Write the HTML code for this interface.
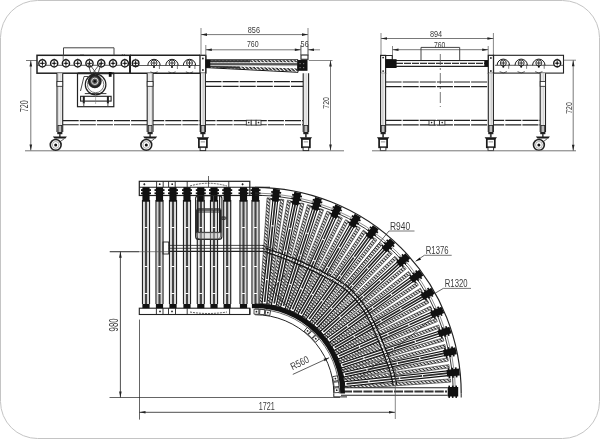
<!DOCTYPE html><html><head><meta charset="utf-8"><style>html,body{margin:0;padding:0;background:#fff;width:600px;height:439px;overflow:hidden}svg{display:block;filter:grayscale(1)}text{font-family:"Liberation Sans",sans-serif}</style></head><body><svg width="600" height="439" viewBox="0 0 600 439">
<rect x="0.5" y="0.5" width="599" height="438" rx="37" ry="37" fill="none" stroke="#c4c4c4" stroke-width="1"/>
<line x1="26" y1="60.5" x2="37" y2="60.5" stroke="#555" stroke-width="0.8" />
<line x1="30.8" y1="60.5" x2="30.8" y2="150.5" stroke="#555" stroke-width="0.8" />
<path d="M30.8,60.5 L29.5,66.5 L32.1,66.5 Z" fill="#222"/>
<path d="M30.8,150.5 L29.5,144.5 L32.1,144.5 Z" fill="#222"/>
<text transform="translate(28.45,112.12) rotate(-90) scale(0.704,1)" font-size="10.17" fill="#3a3a3a">720</text>
<line x1="25" y1="150.8" x2="344" y2="150.8" stroke="#666" stroke-width="0.9" />
<rect x="37" y="55.3" width="93" height="17.9" stroke="#222" stroke-width="1.5" fill="none" />
<line x1="130" y1="55.3" x2="130" y2="73.2" stroke="#222" stroke-width="2" />
<line x1="130" y1="55.3" x2="200" y2="55.3" stroke="#222" stroke-width="1.5" />
<line x1="130" y1="73.2" x2="200" y2="73.2" stroke="#222" stroke-width="1.5" />
<rect x="200" y="55.3" width="5.8" height="17.9" stroke="#222" stroke-width="1.3" fill="none" />
<circle cx="202.9" cy="58.5" r="0.9" stroke="#222" stroke-width="0" fill="#222"/>
<circle cx="202.9" cy="70" r="0.9" stroke="#222" stroke-width="0" fill="#222"/>
<line x1="205.8" y1="56" x2="205.8" y2="73.2" stroke="#222" stroke-width="1" />
<line x1="37" y1="65.3" x2="130" y2="65.3" stroke="#333" stroke-width="0.8" />
<line x1="38.8" y1="65.3" x2="46.0" y2="65.3" stroke="#222" stroke-width="0.0" />
<circle cx="42.4" cy="63.3" r="3.6" stroke="#1a1a1a" stroke-width="1.4" fill="#fff"/>
<line x1="40.0" y1="63.3" x2="44.8" y2="63.3" stroke="#222" stroke-width="1.0" />
<line x1="42.4" y1="60.9" x2="42.4" y2="65.7" stroke="#222" stroke-width="1.0" />
<circle cx="42.4" cy="63.3" r="0.9" stroke="#222" stroke-width="0" fill="#111"/>
<line x1="42.4" y1="58.49999999999999" x2="42.4" y2="59.699999999999996" stroke="#222" stroke-width="0.7" />
<line x1="42.4" y1="66.89999999999999" x2="42.4" y2="68.1" stroke="#222" stroke-width="0.7" />
<line x1="50.57" y1="65.3" x2="57.77" y2="65.3" stroke="#222" stroke-width="0.0" />
<circle cx="54.17" cy="63.3" r="3.6" stroke="#1a1a1a" stroke-width="1.4" fill="#fff"/>
<line x1="51.77" y1="63.3" x2="56.57" y2="63.3" stroke="#222" stroke-width="1.0" />
<line x1="54.17" y1="60.9" x2="54.17" y2="65.7" stroke="#222" stroke-width="1.0" />
<circle cx="54.17" cy="63.3" r="0.9" stroke="#222" stroke-width="0" fill="#111"/>
<line x1="54.17" y1="58.49999999999999" x2="54.17" y2="59.699999999999996" stroke="#222" stroke-width="0.7" />
<line x1="54.17" y1="66.89999999999999" x2="54.17" y2="68.1" stroke="#222" stroke-width="0.7" />
<line x1="62.339999999999996" y1="65.3" x2="69.53999999999999" y2="65.3" stroke="#222" stroke-width="0.0" />
<circle cx="65.94" cy="63.3" r="3.6" stroke="#1a1a1a" stroke-width="1.4" fill="#fff"/>
<line x1="63.54" y1="63.3" x2="68.34" y2="63.3" stroke="#222" stroke-width="1.0" />
<line x1="65.94" y1="60.9" x2="65.94" y2="65.7" stroke="#222" stroke-width="1.0" />
<circle cx="65.94" cy="63.3" r="0.9" stroke="#222" stroke-width="0" fill="#111"/>
<line x1="65.94" y1="58.49999999999999" x2="65.94" y2="59.699999999999996" stroke="#222" stroke-width="0.7" />
<line x1="65.94" y1="66.89999999999999" x2="65.94" y2="68.1" stroke="#222" stroke-width="0.7" />
<line x1="74.11000000000001" y1="65.3" x2="81.31" y2="65.3" stroke="#222" stroke-width="0.0" />
<circle cx="77.71000000000001" cy="63.3" r="3.6" stroke="#1a1a1a" stroke-width="1.4" fill="#fff"/>
<line x1="75.31" y1="63.3" x2="80.11000000000001" y2="63.3" stroke="#222" stroke-width="1.0" />
<line x1="77.71000000000001" y1="60.9" x2="77.71000000000001" y2="65.7" stroke="#222" stroke-width="1.0" />
<circle cx="77.71000000000001" cy="63.3" r="0.9" stroke="#222" stroke-width="0" fill="#111"/>
<line x1="77.71000000000001" y1="58.49999999999999" x2="77.71000000000001" y2="59.699999999999996" stroke="#222" stroke-width="0.7" />
<line x1="77.71000000000001" y1="66.89999999999999" x2="77.71000000000001" y2="68.1" stroke="#222" stroke-width="0.7" />
<line x1="85.88" y1="65.3" x2="93.07999999999998" y2="65.3" stroke="#222" stroke-width="0.0" />
<circle cx="89.47999999999999" cy="63.3" r="3.6" stroke="#1a1a1a" stroke-width="1.4" fill="#fff"/>
<line x1="87.07999999999998" y1="63.3" x2="91.88" y2="63.3" stroke="#222" stroke-width="1.0" />
<line x1="89.47999999999999" y1="60.9" x2="89.47999999999999" y2="65.7" stroke="#222" stroke-width="1.0" />
<circle cx="89.47999999999999" cy="63.3" r="0.9" stroke="#222" stroke-width="0" fill="#111"/>
<line x1="89.47999999999999" y1="58.49999999999999" x2="89.47999999999999" y2="59.699999999999996" stroke="#222" stroke-width="0.7" />
<line x1="89.47999999999999" y1="66.89999999999999" x2="89.47999999999999" y2="68.1" stroke="#222" stroke-width="0.7" />
<line x1="97.65" y1="65.3" x2="104.85" y2="65.3" stroke="#222" stroke-width="0.0" />
<circle cx="101.25" cy="63.3" r="3.6" stroke="#1a1a1a" stroke-width="1.4" fill="#fff"/>
<line x1="98.85" y1="63.3" x2="103.65" y2="63.3" stroke="#222" stroke-width="1.0" />
<line x1="101.25" y1="60.9" x2="101.25" y2="65.7" stroke="#222" stroke-width="1.0" />
<circle cx="101.25" cy="63.3" r="0.9" stroke="#222" stroke-width="0" fill="#111"/>
<line x1="101.25" y1="58.49999999999999" x2="101.25" y2="59.699999999999996" stroke="#222" stroke-width="0.7" />
<line x1="101.25" y1="66.89999999999999" x2="101.25" y2="68.1" stroke="#222" stroke-width="0.7" />
<line x1="109.42000000000002" y1="65.3" x2="116.62" y2="65.3" stroke="#222" stroke-width="0.0" />
<circle cx="113.02000000000001" cy="63.3" r="3.6" stroke="#1a1a1a" stroke-width="1.4" fill="#fff"/>
<line x1="110.62" y1="63.3" x2="115.42000000000002" y2="63.3" stroke="#222" stroke-width="1.0" />
<line x1="113.02000000000001" y1="60.9" x2="113.02000000000001" y2="65.7" stroke="#222" stroke-width="1.0" />
<circle cx="113.02000000000001" cy="63.3" r="0.9" stroke="#222" stroke-width="0" fill="#111"/>
<line x1="113.02000000000001" y1="58.49999999999999" x2="113.02000000000001" y2="59.699999999999996" stroke="#222" stroke-width="0.7" />
<line x1="113.02000000000001" y1="66.89999999999999" x2="113.02000000000001" y2="68.1" stroke="#222" stroke-width="0.7" />
<line x1="121.19" y1="65.3" x2="128.39" y2="65.3" stroke="#222" stroke-width="0.0" />
<circle cx="124.78999999999999" cy="63.3" r="3.6" stroke="#1a1a1a" stroke-width="1.4" fill="#fff"/>
<line x1="122.38999999999999" y1="63.3" x2="127.19" y2="63.3" stroke="#222" stroke-width="1.0" />
<line x1="124.78999999999999" y1="60.9" x2="124.78999999999999" y2="65.7" stroke="#222" stroke-width="1.0" />
<circle cx="124.78999999999999" cy="63.3" r="0.9" stroke="#222" stroke-width="0" fill="#111"/>
<line x1="124.78999999999999" y1="58.49999999999999" x2="124.78999999999999" y2="59.699999999999996" stroke="#222" stroke-width="0.7" />
<line x1="124.78999999999999" y1="66.89999999999999" x2="124.78999999999999" y2="68.1" stroke="#222" stroke-width="0.7" />
<line x1="63.2" y1="55.3" x2="63.2" y2="60" stroke="#555" stroke-width="0.8" />
<line x1="81" y1="54" x2="81" y2="55.3" stroke="#222" stroke-width="0.6" />
<line x1="83" y1="54" x2="83" y2="55.3" stroke="#222" stroke-width="0.6" />
<line x1="122.3" y1="54" x2="122.3" y2="55.3" stroke="#222" stroke-width="0.6" />
<line x1="124.3" y1="54" x2="124.3" y2="55.3" stroke="#222" stroke-width="0.6" />
<line x1="132.29999999999998" y1="65.2" x2="138.9" y2="65.2" stroke="#222" stroke-width="0.0" />
<circle cx="135.6" cy="63.2" r="3.3" stroke="#1a1a1a" stroke-width="1.4" fill="#fff"/>
<line x1="133.2" y1="63.2" x2="138.0" y2="63.2" stroke="#222" stroke-width="1.0" />
<line x1="135.6" y1="60.800000000000004" x2="135.6" y2="65.60000000000001" stroke="#222" stroke-width="1.0" />
<circle cx="135.6" cy="63.2" r="0.9" stroke="#222" stroke-width="0" fill="#111"/>
<line x1="135.6" y1="58.7" x2="135.6" y2="59.900000000000006" stroke="#222" stroke-width="0.7" />
<line x1="135.6" y1="66.5" x2="135.6" y2="67.7" stroke="#222" stroke-width="0.7" />
<path d="M147.8,65.5 A6.2,6.2 0 0 1 160.2,65.5" fill="none" stroke="#1a1a1a" stroke-width="1.0"/>
<circle cx="154" cy="63.0" r="3.0" stroke="#222" stroke-width="0.9" fill="none"/>
<line x1="151.7" y1="63.0" x2="156.3" y2="63.0" stroke="#222" stroke-width="0.9" />
<line x1="154" y1="60.7" x2="154" y2="65.3" stroke="#222" stroke-width="0.9" />
<circle cx="154" cy="67.0" r="1.0" stroke="#222" stroke-width="0" fill="#111"/>
<path d="M157.60,71.87 A6.2,6.2 0 0 1 150.40,71.87" fill="none" stroke="#333" stroke-width="0.8"/>
<line x1="159.39999999999998" y1="64.5" x2="159.39999999999998" y2="69.0" stroke="#444" stroke-width="0.7" />
<path d="M165.8,65.5 A6.2,6.2 0 0 1 178.2,65.5" fill="none" stroke="#1a1a1a" stroke-width="1.0"/>
<circle cx="172" cy="63.0" r="3.0" stroke="#222" stroke-width="0.9" fill="none"/>
<line x1="169.7" y1="63.0" x2="174.3" y2="63.0" stroke="#222" stroke-width="0.9" />
<line x1="172" y1="60.7" x2="172" y2="65.3" stroke="#222" stroke-width="0.9" />
<circle cx="172" cy="67.0" r="1.0" stroke="#222" stroke-width="0" fill="#111"/>
<path d="M175.60,71.87 A6.2,6.2 0 0 1 168.40,71.87" fill="none" stroke="#333" stroke-width="0.8"/>
<line x1="177.39999999999998" y1="64.5" x2="177.39999999999998" y2="69.0" stroke="#444" stroke-width="0.7" />
<path d="M183.3,65.5 A6.2,6.2 0 0 1 195.7,65.5" fill="none" stroke="#1a1a1a" stroke-width="1.0"/>
<circle cx="189.5" cy="63.0" r="3.0" stroke="#222" stroke-width="0.9" fill="none"/>
<line x1="187.2" y1="63.0" x2="191.8" y2="63.0" stroke="#222" stroke-width="0.9" />
<line x1="189.5" y1="60.7" x2="189.5" y2="65.3" stroke="#222" stroke-width="0.9" />
<circle cx="189.5" cy="67.0" r="1.0" stroke="#222" stroke-width="0" fill="#111"/>
<path d="M193.10,71.87 A6.2,6.2 0 0 1 185.90,71.87" fill="none" stroke="#333" stroke-width="0.8"/>
<line x1="194.89999999999998" y1="64.5" x2="194.89999999999998" y2="69.0" stroke="#444" stroke-width="0.7" />
<line x1="130" y1="65.5" x2="200" y2="65.5" stroke="#333" stroke-width="0.8" />
<path d="M63.5,55.3 V47.8 H114 V55.3" fill="none" stroke="#444" stroke-width="1"/>
<rect x="77.5" y="73.4" width="36.3" height="33.3" stroke="#222" stroke-width="1.2" fill="none" />
<line x1="78" y1="73.4" x2="113.8" y2="73.4" stroke="#222" stroke-width="1.6" />
<path d="M88,63.5 L92,77 M101,63.5 L97,77 M89,63.5 L99,77 M100,63.5 L90,77" stroke="#333" stroke-width="0.8" fill="none"/>
<circle cx="95.6" cy="84.5" r="10.3" stroke="#222" stroke-width="1.2" fill="none"/>
<circle cx="95.6" cy="84.5" r="8.2" stroke="#555" stroke-width="0.8" fill="none"/>
<circle cx="94.8" cy="81.3" r="5.8" stroke="#222" stroke-width="2.2" fill="#555"/>
<circle cx="94.8" cy="81.3" r="3.2" stroke="#ddd" stroke-width="1.0" fill="none"/>
<circle cx="94.8" cy="81.3" r="1.2" stroke="#222" stroke-width="0" fill="#111"/>
<line x1="84.8" y1="93.6" x2="106.4" y2="93.6" stroke="#222" stroke-width="0.9" />
<path d="M80.5,91 L84,76.5 L88,76.5" fill="none" stroke="#333" stroke-width="0.9"/>
<rect x="80.6" y="96.3" width="30.5" height="4.8" stroke="#222" stroke-width="1.1" fill="none" />
<line x1="95.6" y1="94" x2="95.6" y2="104" stroke="#777" stroke-width="0.5" />
<rect x="82.8" y="96" width="2" height="7.5" stroke="#222" stroke-width="0" fill="#222" />
<line x1="83.8" y1="103.5" x2="83.8" y2="106" stroke="#222" stroke-width="0.8" />
<rect x="106.9" y="96" width="2" height="7.5" stroke="#222" stroke-width="0" fill="#222" />
<line x1="107.9" y1="103.5" x2="107.9" y2="106" stroke="#222" stroke-width="0.8" />
<rect x="108.8" y="72" width="2.8" height="4.8" stroke="#222" stroke-width="0" fill="#111" />
<line x1="62.7" y1="120.6" x2="303.2" y2="120.6" stroke="#222" stroke-width="1.1" stroke-dasharray="16,1.1"/>
<line x1="62.7" y1="124.8" x2="303.2" y2="124.8" stroke="#222" stroke-width="1.1" stroke-dasharray="16,1.1"/>
<rect x="246.3" y="120.2" width="4.9" height="4.8" stroke="#222" stroke-width="0.8" fill="#fff" />
<rect x="251.2" y="120.2" width="4.9" height="4.8" stroke="#222" stroke-width="0.8" fill="#fff" />
<rect x="256.1" y="120.2" width="4.9" height="4.8" stroke="#222" stroke-width="0.8" fill="#fff" />
<circle cx="248.7" cy="122.6" r="0.8" stroke="#222" stroke-width="0" fill="#222"/>
<circle cx="258.5" cy="122.6" r="0.8" stroke="#222" stroke-width="0" fill="#222"/>
<rect x="57.0" y="73.2" width="5.700000000000003" height="58.8" stroke="#222" stroke-width="0" fill="#fff" />
<line x1="57.0" y1="73.2" x2="57.0" y2="132" stroke="#222" stroke-width="1.1" />
<line x1="62.7" y1="73.2" x2="62.7" y2="132" stroke="#222" stroke-width="1.1" />
<line x1="58.8" y1="73.2" x2="58.8" y2="132" stroke="#999" stroke-width="0.5" />
<line x1="60.900000000000006" y1="73.2" x2="60.900000000000006" y2="132" stroke="#999" stroke-width="0.5" />
<rect x="57.0" y="81.5" width="5.700000000000003" height="4.8" stroke="#222" stroke-width="0.8" fill="#fff" />
<rect x="58.050000000000004" y="125.5" width="3.6" height="8" stroke="#222" stroke-width="0.8" fill="#bbb" />
<rect x="57.35" y="132" width="5" height="2.2" stroke="#222" stroke-width="0" fill="#222" />
<rect x="147.2" y="73.2" width="5.800000000000011" height="58.8" stroke="#222" stroke-width="0" fill="#fff" />
<line x1="147.2" y1="73.2" x2="147.2" y2="132" stroke="#222" stroke-width="1.1" />
<line x1="153.0" y1="73.2" x2="153.0" y2="132" stroke="#222" stroke-width="1.1" />
<line x1="149.0" y1="73.2" x2="149.0" y2="132" stroke="#999" stroke-width="0.5" />
<line x1="151.2" y1="73.2" x2="151.2" y2="132" stroke="#999" stroke-width="0.5" />
<rect x="147.2" y="81.5" width="5.800000000000011" height="4.8" stroke="#222" stroke-width="0.8" fill="#fff" />
<rect x="148.29999999999998" y="125.5" width="3.6" height="8" stroke="#222" stroke-width="0.8" fill="#bbb" />
<rect x="147.6" y="132" width="5" height="2.2" stroke="#222" stroke-width="0" fill="#222" />
<rect x="200.4" y="73.2" width="5.0" height="58.8" stroke="#222" stroke-width="0" fill="#fff" />
<line x1="200.4" y1="73.2" x2="200.4" y2="132" stroke="#222" stroke-width="1.1" />
<line x1="205.4" y1="73.2" x2="205.4" y2="132" stroke="#222" stroke-width="1.1" />
<line x1="202.20000000000002" y1="73.2" x2="202.20000000000002" y2="132" stroke="#999" stroke-width="0.5" />
<line x1="203.6" y1="73.2" x2="203.6" y2="132" stroke="#999" stroke-width="0.5" />
<rect x="201.1" y="125.5" width="3.6" height="8" stroke="#222" stroke-width="0.8" fill="#bbb" />
<rect x="200.4" y="132" width="5" height="2.2" stroke="#222" stroke-width="0" fill="#222" />
<rect x="303.2" y="73.2" width="5.400000000000034" height="58.8" stroke="#222" stroke-width="0" fill="#fff" />
<line x1="303.2" y1="73.2" x2="303.2" y2="132" stroke="#222" stroke-width="1.1" />
<line x1="308.6" y1="73.2" x2="308.6" y2="132" stroke="#222" stroke-width="1.1" />
<line x1="305.0" y1="73.2" x2="305.0" y2="132" stroke="#999" stroke-width="0.5" />
<line x1="306.8" y1="73.2" x2="306.8" y2="132" stroke="#999" stroke-width="0.5" />
<rect x="304.09999999999997" y="125.5" width="3.6" height="8" stroke="#222" stroke-width="0.8" fill="#bbb" />
<rect x="303.4" y="132" width="5" height="2.2" stroke="#222" stroke-width="0" fill="#222" />
<line x1="200.4" y1="73.2" x2="200.4" y2="132" stroke="#222" stroke-width="1.2" />
<line x1="59.85" y1="134" x2="59.85" y2="137.5" stroke="#444" stroke-width="1.6" />
<path d="M52.85,136.6 L66.85,136.6 L65.35,138.6 L54.35,138.6 Z" fill="#1a1a1a"/>
<path d="M56.35,138.6 L55.7,145 L64.35,138.6" fill="none" stroke="#333" stroke-width="0.8"/>
<circle cx="55.7" cy="144.9" r="5.4" stroke="#222" stroke-width="1.6" fill="#fff"/>
<circle cx="55.7" cy="144.9" r="3.4" stroke="#777" stroke-width="0.6" fill="none"/>
<circle cx="55.7" cy="144.9" r="1.5" stroke="#222" stroke-width="0" fill="#111"/>
<line x1="150.1" y1="134" x2="150.1" y2="137.5" stroke="#444" stroke-width="1.6" />
<path d="M143.1,136.6 L157.1,136.6 L155.6,138.6 L144.6,138.6 Z" fill="#1a1a1a"/>
<path d="M146.6,138.6 L146.3,145 L154.6,138.6" fill="none" stroke="#333" stroke-width="0.8"/>
<circle cx="146.3" cy="144.9" r="5.4" stroke="#222" stroke-width="1.6" fill="#fff"/>
<circle cx="146.3" cy="144.9" r="3.4" stroke="#777" stroke-width="0.6" fill="none"/>
<circle cx="146.3" cy="144.9" r="1.5" stroke="#222" stroke-width="0" fill="#111"/>
<line x1="202.9" y1="134" x2="202.9" y2="137.5" stroke="#444" stroke-width="1.8" />
<path d="M196.70000000000002,137.2 L209.1,137.2 L207.4,139.6 L198.4,139.6 Z" fill="#1a1a1a"/>
<rect x="198.9" y="139" width="8" height="8.3" stroke="#1a1a1a" stroke-width="1.7" fill="#fff" />
<rect x="200.70000000000002" y="141" width="4.4" height="1.6" stroke="#222" stroke-width="0" fill="#bbb" />
<rect x="200.1" y="147.3" width="5.6" height="3.3" stroke="#222" stroke-width="0.9" fill="#fff" />
<line x1="305.9" y1="134" x2="305.9" y2="137.5" stroke="#444" stroke-width="1.8" />
<path d="M299.7,137.2 L312.09999999999997,137.2 L310.4,139.6 L301.4,139.6 Z" fill="#1a1a1a"/>
<rect x="301.9" y="139" width="8" height="8.3" stroke="#1a1a1a" stroke-width="1.7" fill="#fff" />
<rect x="303.7" y="141" width="4.4" height="1.6" stroke="#222" stroke-width="0" fill="#bbb" />
<rect x="303.09999999999997" y="147.3" width="5.6" height="3.3" stroke="#222" stroke-width="0.9" fill="#fff" />
<defs><pattern id="hp2" width="2.6" height="2.6" patternUnits="userSpaceOnUse" patternTransform="rotate(45)"><rect width="2.6" height="2.6" fill="#fff"/><rect width="2.6" height="1.5" fill="#222"/></pattern></defs>
<path d="M205.80,59.80 L298.00,59.80 L298.00,72.30 L205.80,67.60 Z" fill="#fff" stroke="#111" stroke-width="1.0" />
<path d="M208.00,60.30 L297.50,60.30 L297.50,62.40 L208.00,62.40 Z" fill="url(#hp2)" stroke="none" stroke-width="1" />
<path d="M208.00,60.20 L250.00,60.20 L250.00,62.50 L208.00,62.50 Z" fill="#333" stroke="none" stroke-width="1" />
<path d="M208.00,65.60 L297.50,68.40 L297.50,71.60 L208.00,67.30 Z" fill="url(#hp2)" stroke="none" stroke-width="1" />
<path d="M208.00,65.60 L240.00,66.60 L240.00,68.80 L208.00,67.30 Z" fill="#333" stroke="none" stroke-width="1" />
<path d="M208.00,62.90 L297.50,62.90 L297.50,65.40 L208.00,65.40 Z" fill="#555" stroke="none" stroke-width="1" />
<line x1="208" y1="62.65" x2="297.5" y2="62.65" stroke="#eee" stroke-width="0.6" />
<line x1="208" y1="65.5" x2="297.5" y2="66.5" stroke="#eee" stroke-width="0.6" />
<rect x="205.8" y="59.8" width="4.5" height="8" stroke="#222" stroke-width="0" fill="#111" />
<rect x="297.2" y="60" width="10.3" height="10.8" stroke="#222" stroke-width="0" fill="#111" />
<rect x="299.5" y="63" width="1.2" height="1.2" stroke="#222" stroke-width="0" fill="#777" />
<rect x="299.5" y="67" width="1.2" height="1.2" stroke="#222" stroke-width="0" fill="#777" />
<rect x="303" y="63" width="1.2" height="1.2" stroke="#222" stroke-width="0" fill="#777" />
<rect x="303" y="67" width="1.2" height="1.2" stroke="#222" stroke-width="0" fill="#777" />
<rect x="301" y="55" width="7" height="4.3" stroke="#222" stroke-width="1.1" fill="none" />
<line x1="301" y1="46" x2="301" y2="55" stroke="#666" stroke-width="0.6" />
<line x1="308" y1="46" x2="308" y2="55" stroke="#666" stroke-width="0.6" />
<line x1="205.5" y1="81.6" x2="303.2" y2="81.6" stroke="#222" stroke-width="1.1" stroke-dasharray="16,1.1"/>
<line x1="205.5" y1="86.4" x2="303.2" y2="86.4" stroke="#222" stroke-width="1.1" stroke-dasharray="16,1.1"/>
<line x1="201" y1="28" x2="201" y2="56" stroke="#555" stroke-width="0.7" />
<line x1="308" y1="28" x2="308" y2="56" stroke="#555" stroke-width="0.7" />
<line x1="201" y1="34.6" x2="308" y2="34.6" stroke="#555" stroke-width="0.8" />
<path d="M201,34.6 L207,33.300000000000004 L207,35.9 Z" fill="#222"/>
<path d="M308,34.6 L302,33.300000000000004 L302,35.9 Z" fill="#222"/>
<text transform="translate(247.73,32.66) scale(0.799,1)" font-size="9.18" fill="#3a3a3a">856</text>
<line x1="205.8" y1="45" x2="205.8" y2="59" stroke="#555" stroke-width="0.7" />
<line x1="300.8" y1="45" x2="300.8" y2="55" stroke="#555" stroke-width="0.7" />
<line x1="205.8" y1="49.8" x2="300.8" y2="49.8" stroke="#555" stroke-width="0.8" />
<path d="M205.8,49.8 L211.8,48.5 L211.8,51.099999999999994 Z" fill="#222"/>
<path d="M300.8,49.8 L294.8,48.5 L294.8,51.099999999999994 Z" fill="#222"/>
<text transform="translate(246.99,47.36) scale(0.759,1)" font-size="9.18" fill="#3a3a3a">760</text>
<line x1="308" y1="49.8" x2="320" y2="49.8" stroke="#555" stroke-width="0.7" />
<path d="M308,49.8 L314,48.5 L314,51.099999999999994 Z" fill="#222"/>
<text transform="translate(300.61,47.26) scale(0.827,1)" font-size="8.76" fill="#3a3a3a">56</text>
<line x1="308.7" y1="60.5" x2="332.5" y2="60.5" stroke="#555" stroke-width="0.7" />
<line x1="330.5" y1="60.5" x2="330.5" y2="150.5" stroke="#555" stroke-width="0.8" />
<path d="M330.5,60.5 L329.2,66.5 L331.8,66.5 Z" fill="#222"/>
<path d="M330.5,150.5 L329.2,144.5 L331.8,144.5 Z" fill="#222"/>
<text transform="translate(328.75,108.71) rotate(-90) scale(0.715,1)" font-size="9.75" fill="#3a3a3a">720</text>
<line x1="381" y1="33" x2="381" y2="56" stroke="#555" stroke-width="0.7" />
<line x1="493.4" y1="33" x2="493.4" y2="56" stroke="#555" stroke-width="0.7" />
<line x1="381" y1="38.5" x2="493.4" y2="38.5" stroke="#555" stroke-width="0.8" />
<path d="M381,38.5 L387,37.2 L387,39.8 Z" fill="#222"/>
<path d="M493.4,38.5 L487.4,37.2 L487.4,39.8 Z" fill="#222"/>
<text transform="translate(429.93,37.36) scale(0.799,1)" font-size="9.18" fill="#3a3a3a">894</text>
<line x1="392.5" y1="46" x2="392.5" y2="60" stroke="#555" stroke-width="0.7" />
<line x1="488.2" y1="46" x2="488.2" y2="60" stroke="#555" stroke-width="0.7" />
<line x1="392.5" y1="49.7" x2="488.2" y2="49.7" stroke="#555" stroke-width="0.8" />
<path d="M392.5,49.7 L398.5,48.400000000000006 L398.5,51.0 Z" fill="#222"/>
<path d="M488.2,49.7 L482.2,48.400000000000006 L482.2,51.0 Z" fill="#222"/>
<text transform="translate(434.00,47.66) scale(0.739,1)" font-size="9.18" fill="#3a3a3a">760</text>
<path d="M421,60.3 V47.4 H459.7 V60.3" fill="none" stroke="#444" stroke-width="1"/>
<rect x="380.6" y="55.4" width="5" height="18" stroke="#222" stroke-width="1.2" fill="none" />
<circle cx="383.1" cy="57.6" r="0.9" stroke="#222" stroke-width="0" fill="#222"/>
<circle cx="383.1" cy="71.1" r="0.9" stroke="#222" stroke-width="0" fill="#222"/>
<rect x="488.3" y="55.3" width="5.2" height="18" stroke="#222" stroke-width="1.2" fill="none" />
<circle cx="490.9" cy="58" r="0.9" stroke="#222" stroke-width="0" fill="#222"/>
<circle cx="490.9" cy="71" r="0.9" stroke="#222" stroke-width="0" fill="#222"/>
<rect x="385.6" y="55.5" width="6.6" height="4.5" stroke="#222" stroke-width="1" fill="none" />
<line x1="385.6" y1="60.5" x2="488.3" y2="60.5" stroke="#222" stroke-width="1.2" />
<line x1="385.6" y1="66.4" x2="488.3" y2="66.4" stroke="#222" stroke-width="1.2" />
<line x1="396" y1="62" x2="488" y2="62" stroke="#ccc" stroke-width="0.5" />
<line x1="396" y1="63.4" x2="488" y2="63.4" stroke="#333" stroke-width="1.2" stroke-dasharray="7,1"/>
<rect x="385.6" y="59.2" width="11" height="8.8" stroke="#222" stroke-width="0" fill="#111" />
<rect x="484.3" y="60.5" width="3.7" height="6" stroke="#222" stroke-width="0" fill="#111" />
<line x1="440.3" y1="54" x2="440.3" y2="107" stroke="#555" stroke-width="0.8" stroke-dasharray="11,3,2,3"/>
<rect x="493.5" y="55.3" width="70" height="17.8" stroke="#222" stroke-width="1.1" fill="none" />
<line x1="495" y1="65.3" x2="563.5" y2="65.3" stroke="#333" stroke-width="0.8" />
<path d="M497.1,65.3 A6.2,6.2 0 0 1 509.5,65.3" fill="none" stroke="#1a1a1a" stroke-width="1.0"/>
<circle cx="503.3" cy="63.0" r="3.0" stroke="#222" stroke-width="0.9" fill="none"/>
<line x1="501.0" y1="63.0" x2="505.6" y2="63.0" stroke="#222" stroke-width="0.9" />
<line x1="503.3" y1="60.7" x2="503.3" y2="65.3" stroke="#222" stroke-width="0.9" />
<circle cx="503.3" cy="66.8" r="1.0" stroke="#222" stroke-width="0" fill="#111"/>
<path d="M506.90,71.67 A6.2,6.2 0 0 1 499.70,71.67" fill="none" stroke="#333" stroke-width="0.8"/>
<line x1="508.7" y1="64.3" x2="508.7" y2="68.8" stroke="#444" stroke-width="0.7" />
<path d="M515.0,65.3 A6.2,6.2 0 0 1 527.4000000000001,65.3" fill="none" stroke="#1a1a1a" stroke-width="1.0"/>
<circle cx="521.2" cy="63.0" r="3.0" stroke="#222" stroke-width="0.9" fill="none"/>
<line x1="518.9000000000001" y1="63.0" x2="523.5" y2="63.0" stroke="#222" stroke-width="0.9" />
<line x1="521.2" y1="60.7" x2="521.2" y2="65.3" stroke="#222" stroke-width="0.9" />
<circle cx="521.2" cy="66.8" r="1.0" stroke="#222" stroke-width="0" fill="#111"/>
<path d="M524.80,71.67 A6.2,6.2 0 0 1 517.60,71.67" fill="none" stroke="#333" stroke-width="0.8"/>
<line x1="526.6000000000001" y1="64.3" x2="526.6000000000001" y2="68.8" stroke="#444" stroke-width="0.7" />
<path d="M532.5999999999999,65.3 A6.2,6.2 0 0 1 545.0,65.3" fill="none" stroke="#1a1a1a" stroke-width="1.0"/>
<circle cx="538.8" cy="63.0" r="3.0" stroke="#222" stroke-width="0.9" fill="none"/>
<line x1="536.5" y1="63.0" x2="541.0999999999999" y2="63.0" stroke="#222" stroke-width="0.9" />
<line x1="538.8" y1="60.7" x2="538.8" y2="65.3" stroke="#222" stroke-width="0.9" />
<circle cx="538.8" cy="66.8" r="1.0" stroke="#222" stroke-width="0" fill="#111"/>
<path d="M542.40,71.67 A6.2,6.2 0 0 1 535.20,71.67" fill="none" stroke="#333" stroke-width="0.8"/>
<line x1="544.2" y1="64.3" x2="544.2" y2="68.8" stroke="#444" stroke-width="0.7" />
<line x1="553.7" y1="65.2" x2="560.7" y2="65.2" stroke="#222" stroke-width="0.0" />
<circle cx="557.2" cy="63.2" r="3.5" stroke="#1a1a1a" stroke-width="1.4" fill="#fff"/>
<line x1="554.8000000000001" y1="63.2" x2="559.6" y2="63.2" stroke="#222" stroke-width="1.0" />
<line x1="557.2" y1="60.800000000000004" x2="557.2" y2="65.60000000000001" stroke="#222" stroke-width="1.0" />
<circle cx="557.2" cy="63.2" r="0.9" stroke="#222" stroke-width="0" fill="#111"/>
<line x1="557.2" y1="58.5" x2="557.2" y2="59.7" stroke="#222" stroke-width="0.7" />
<line x1="557.2" y1="66.7" x2="557.2" y2="67.9" stroke="#222" stroke-width="0.7" />
<line x1="385.6" y1="82" x2="488.3" y2="82" stroke="#222" stroke-width="1.1" stroke-dasharray="16,1.1"/>
<line x1="385.6" y1="86.6" x2="488.3" y2="86.6" stroke="#222" stroke-width="1.1" stroke-dasharray="16,1.1"/>
<line x1="385.6" y1="120.4" x2="540.2" y2="120.4" stroke="#222" stroke-width="1.1" stroke-dasharray="16,1.1"/>
<line x1="385.6" y1="124.9" x2="540.2" y2="124.9" stroke="#222" stroke-width="1.1" stroke-dasharray="16,1.1"/>
<rect x="380.6" y="73.2" width="5.0" height="58.8" stroke="#222" stroke-width="0" fill="#fff" />
<line x1="380.6" y1="73.2" x2="380.6" y2="132" stroke="#222" stroke-width="1.1" />
<line x1="385.6" y1="73.2" x2="385.6" y2="132" stroke="#222" stroke-width="1.1" />
<line x1="382.40000000000003" y1="73.2" x2="382.40000000000003" y2="132" stroke="#999" stroke-width="0.5" />
<line x1="383.8" y1="73.2" x2="383.8" y2="132" stroke="#999" stroke-width="0.5" />
<rect x="381.3" y="125.5" width="3.6" height="8" stroke="#222" stroke-width="0.8" fill="#bbb" />
<rect x="380.6" y="132" width="5" height="2.2" stroke="#222" stroke-width="0" fill="#222" />
<rect x="488.3" y="73.2" width="5.099999999999966" height="58.8" stroke="#222" stroke-width="0" fill="#fff" />
<line x1="488.3" y1="73.2" x2="488.3" y2="132" stroke="#222" stroke-width="1.1" />
<line x1="493.4" y1="73.2" x2="493.4" y2="132" stroke="#222" stroke-width="1.1" />
<line x1="490.1" y1="73.2" x2="490.1" y2="132" stroke="#999" stroke-width="0.5" />
<line x1="491.59999999999997" y1="73.2" x2="491.59999999999997" y2="132" stroke="#999" stroke-width="0.5" />
<rect x="489.05" y="125.5" width="3.6" height="8" stroke="#222" stroke-width="0.8" fill="#bbb" />
<rect x="488.35" y="132" width="5" height="2.2" stroke="#222" stroke-width="0" fill="#222" />
<rect x="540.2" y="73.2" width="5.2999999999999545" height="58.8" stroke="#222" stroke-width="0" fill="#fff" />
<line x1="540.2" y1="73.2" x2="540.2" y2="132" stroke="#222" stroke-width="1.1" />
<line x1="545.5" y1="73.2" x2="545.5" y2="132" stroke="#222" stroke-width="1.1" />
<line x1="542.0" y1="73.2" x2="542.0" y2="132" stroke="#999" stroke-width="0.5" />
<line x1="543.7" y1="73.2" x2="543.7" y2="132" stroke="#999" stroke-width="0.5" />
<rect x="540.2" y="81.5" width="5.2999999999999545" height="4.8" stroke="#222" stroke-width="0.8" fill="#fff" />
<rect x="541.0500000000001" y="125.5" width="3.6" height="8" stroke="#222" stroke-width="0.8" fill="#bbb" />
<rect x="540.35" y="132" width="5" height="2.2" stroke="#222" stroke-width="0" fill="#222" />
<rect x="429" y="120.4" width="5.3" height="4.5" stroke="#222" stroke-width="0.8" fill="#fff" />
<rect x="434.3" y="120.4" width="5.3" height="4.5" stroke="#222" stroke-width="0.8" fill="#fff" />
<rect x="439.6" y="120.4" width="5.3" height="4.5" stroke="#222" stroke-width="0.8" fill="#fff" />
<circle cx="431.6" cy="122.6" r="0.8" stroke="#222" stroke-width="0" fill="#222"/>
<circle cx="442.2" cy="122.6" r="0.8" stroke="#222" stroke-width="0" fill="#222"/>
<line x1="383.1" y1="134" x2="383.1" y2="137.5" stroke="#444" stroke-width="1.8" />
<path d="M376.90000000000003,137.2 L389.3,137.2 L387.6,139.6 L378.6,139.6 Z" fill="#1a1a1a"/>
<rect x="379.1" y="139" width="8" height="8.3" stroke="#1a1a1a" stroke-width="1.7" fill="#fff" />
<rect x="380.90000000000003" y="141" width="4.4" height="1.6" stroke="#222" stroke-width="0" fill="#bbb" />
<rect x="380.3" y="147.3" width="5.6" height="3.3" stroke="#222" stroke-width="0.9" fill="#fff" />
<line x1="490.8" y1="134" x2="490.8" y2="137.5" stroke="#444" stroke-width="1.8" />
<path d="M484.6,137.2 L497.0,137.2 L495.3,139.6 L486.3,139.6 Z" fill="#1a1a1a"/>
<rect x="486.8" y="139" width="8" height="8.3" stroke="#1a1a1a" stroke-width="1.7" fill="#fff" />
<rect x="488.6" y="141" width="4.4" height="1.6" stroke="#222" stroke-width="0" fill="#bbb" />
<rect x="488.0" y="147.3" width="5.6" height="3.3" stroke="#222" stroke-width="0.9" fill="#fff" />
<line x1="542.85" y1="134" x2="542.85" y2="137.5" stroke="#444" stroke-width="1.6" />
<path d="M535.85,136.6 L549.85,136.6 L548.35,138.6 L537.35,138.6 Z" fill="#1a1a1a"/>
<path d="M539.35,138.6 L538.9,145 L547.35,138.6" fill="none" stroke="#333" stroke-width="0.8"/>
<circle cx="538.9" cy="144.9" r="5.4" stroke="#222" stroke-width="1.6" fill="#fff"/>
<circle cx="538.9" cy="144.9" r="3.4" stroke="#777" stroke-width="0.6" fill="none"/>
<circle cx="538.9" cy="144.9" r="1.5" stroke="#222" stroke-width="0" fill="#111"/>
<line x1="372" y1="150.8" x2="576" y2="150.8" stroke="#666" stroke-width="0.9" />
<line x1="563.5" y1="60.2" x2="576" y2="60.2" stroke="#555" stroke-width="0.7" />
<line x1="573.2" y1="60.2" x2="573.2" y2="150.8" stroke="#555" stroke-width="0.8" />
<path d="M573.2,60.2 L571.9000000000001,66.2 L574.5,66.2 Z" fill="#222"/>
<path d="M573.2,150.8 L571.9000000000001,144.8 L574.5,144.8 Z" fill="#222"/>
<text transform="translate(571.85,113.81) rotate(-90) scale(0.715,1)" font-size="9.75" fill="#3a3a3a">720</text>
<defs><pattern id="hp" width="2.6" height="2.6" patternUnits="userSpaceOnUse" patternTransform="rotate(40)"><rect width="2.6" height="2.6" fill="#fff"/><rect width="2.6" height="1.2" fill="#2a2a2a"/></pattern></defs>
<rect x="139.3" y="181.3" width="110.5" height="14.2" stroke="#222" stroke-width="1.2" fill="none" />
<line x1="139.3" y1="187.2" x2="270" y2="187.2" stroke="#222" stroke-width="1.1" />
<line x1="249.8" y1="195.5" x2="262" y2="195.5" stroke="#222" stroke-width="1" />
<line x1="156.6" y1="181.3" x2="156.6" y2="187.2" stroke="#222" stroke-width="0.9" />
<line x1="163.2" y1="181.3" x2="163.2" y2="187.2" stroke="#222" stroke-width="0.9" />
<line x1="168.6" y1="181.3" x2="168.6" y2="187.2" stroke="#222" stroke-width="0.9" />
<line x1="175.2" y1="181.3" x2="175.2" y2="187.2" stroke="#222" stroke-width="0.9" />
<line x1="187.2" y1="181.3" x2="187.2" y2="187.2" stroke="#222" stroke-width="0.9" />
<line x1="228.8" y1="181.3" x2="228.8" y2="187.2" stroke="#222" stroke-width="0.9" />
<path d="M143.10000000000002,184.2 L144.3,183 L145.5,184.2 L144.3,185.4 Z" fill="#222"/>
<path d="M241.4,184.2 L242.6,183 L243.79999999999998,184.2 L242.6,185.4 Z" fill="#222"/>
<circle cx="159.7" cy="184.2" r="0.9" stroke="#222" stroke-width="0" fill="#222"/>
<circle cx="172.2" cy="184.2" r="0.9" stroke="#222" stroke-width="0" fill="#222"/>
<path d="M190,186 Q208,180.5 227,186" fill="none" stroke="#333" stroke-width="0.8" stroke-dasharray="2,1"/>
<line x1="208.5" y1="176" x2="208.5" y2="187" stroke="#222" stroke-width="0.7" />
<rect x="139.3" y="308.2" width="110.5" height="6.3" stroke="#222" stroke-width="1.1" fill="none" />
<line x1="249.8" y1="308.2" x2="249.8" y2="314.5" stroke="#222" stroke-width="1.3" />
<line x1="156.4" y1="308.2" x2="156.4" y2="314.5" stroke="#222" stroke-width="0.9" />
<line x1="163" y1="308.2" x2="163" y2="314.5" stroke="#222" stroke-width="0.9" />
<line x1="168.5" y1="308.2" x2="168.5" y2="314.5" stroke="#222" stroke-width="0.9" />
<line x1="175.5" y1="308.2" x2="175.5" y2="314.5" stroke="#222" stroke-width="0.9" />
<line x1="187.2" y1="308.2" x2="187.2" y2="314.5" stroke="#222" stroke-width="0.9" />
<line x1="229.6" y1="308.2" x2="229.6" y2="314.5" stroke="#222" stroke-width="0.9" />
<circle cx="160" cy="311.4" r="0.9" stroke="#222" stroke-width="0" fill="#222"/>
<circle cx="172" cy="311.4" r="0.9" stroke="#222" stroke-width="0" fill="#222"/>
<path d="M190,312 Q208,315 227,312" fill="none" stroke="#333" stroke-width="0.8" stroke-dasharray="2,1"/>
<line x1="142.5" y1="200" x2="142.5" y2="304" stroke="#222" stroke-width="1.2" />
<line x1="149.5" y1="200" x2="149.5" y2="304" stroke="#222" stroke-width="1.2" />
<line x1="146" y1="201" x2="146" y2="304" stroke="#444" stroke-width="2.3" stroke-dasharray="26,1,38,1"/>
<line x1="144.0" y1="201" x2="144.0" y2="304" stroke="#aaa" stroke-width="0.5" />
<line x1="148.0" y1="201" x2="148.0" y2="304" stroke="#aaa" stroke-width="0.5" />
<rect x="142.4" y="187.2" width="7.2" height="14.5" stroke="#222" stroke-width="0" fill="#111" />
<rect x="141" y="189.2" width="10" height="1.8" stroke="#222" stroke-width="0" fill="#111" />
<rect x="141" y="192.4" width="10" height="1.8" stroke="#222" stroke-width="0" fill="#111" />
<rect x="142.4" y="304" width="7.2" height="4.2" stroke="#222" stroke-width="0" fill="#111" />
<line x1="156.0" y1="200" x2="156.0" y2="304" stroke="#222" stroke-width="1.2" />
<line x1="163.0" y1="200" x2="163.0" y2="304" stroke="#222" stroke-width="1.2" />
<line x1="159.5" y1="201" x2="159.5" y2="304" stroke="#444" stroke-width="2.3" stroke-dasharray="26,1,38,1"/>
<line x1="157.5" y1="201" x2="157.5" y2="304" stroke="#aaa" stroke-width="0.5" />
<line x1="161.5" y1="201" x2="161.5" y2="304" stroke="#aaa" stroke-width="0.5" />
<rect x="155.9" y="187.2" width="7.2" height="14.5" stroke="#222" stroke-width="0" fill="#111" />
<rect x="154.5" y="189.2" width="10" height="1.8" stroke="#222" stroke-width="0" fill="#111" />
<rect x="154.5" y="192.4" width="10" height="1.8" stroke="#222" stroke-width="0" fill="#111" />
<rect x="155.9" y="304" width="7.2" height="4.2" stroke="#222" stroke-width="0" fill="#111" />
<line x1="169.5" y1="200" x2="169.5" y2="304" stroke="#222" stroke-width="1.2" />
<line x1="176.5" y1="200" x2="176.5" y2="304" stroke="#222" stroke-width="1.2" />
<line x1="173" y1="201" x2="173" y2="304" stroke="#444" stroke-width="2.3" stroke-dasharray="26,1,38,1"/>
<line x1="171.0" y1="201" x2="171.0" y2="304" stroke="#aaa" stroke-width="0.5" />
<line x1="175.0" y1="201" x2="175.0" y2="304" stroke="#aaa" stroke-width="0.5" />
<rect x="169.4" y="187.2" width="7.2" height="14.5" stroke="#222" stroke-width="0" fill="#111" />
<rect x="168" y="189.2" width="10" height="1.8" stroke="#222" stroke-width="0" fill="#111" />
<rect x="168" y="192.4" width="10" height="1.8" stroke="#222" stroke-width="0" fill="#111" />
<rect x="169.4" y="304" width="7.2" height="4.2" stroke="#222" stroke-width="0" fill="#111" />
<line x1="183.5" y1="200" x2="183.5" y2="304" stroke="#222" stroke-width="1.2" />
<line x1="190.5" y1="200" x2="190.5" y2="304" stroke="#222" stroke-width="1.2" />
<line x1="187" y1="201" x2="187" y2="304" stroke="#444" stroke-width="2.3" stroke-dasharray="26,1,38,1"/>
<line x1="185.0" y1="201" x2="185.0" y2="304" stroke="#aaa" stroke-width="0.5" />
<line x1="189.0" y1="201" x2="189.0" y2="304" stroke="#aaa" stroke-width="0.5" />
<rect x="183.4" y="187.2" width="7.2" height="14.5" stroke="#222" stroke-width="0" fill="#111" />
<rect x="182" y="189.2" width="10" height="1.8" stroke="#222" stroke-width="0" fill="#111" />
<rect x="182" y="192.4" width="10" height="1.8" stroke="#222" stroke-width="0" fill="#111" />
<rect x="183.4" y="304" width="7.2" height="4.2" stroke="#222" stroke-width="0" fill="#111" />
<line x1="197.3" y1="200" x2="197.3" y2="304" stroke="#222" stroke-width="1.2" />
<line x1="204.3" y1="200" x2="204.3" y2="304" stroke="#222" stroke-width="1.2" />
<line x1="200.8" y1="201" x2="200.8" y2="304" stroke="#444" stroke-width="2.3" stroke-dasharray="26,1,38,1"/>
<line x1="198.8" y1="201" x2="198.8" y2="304" stroke="#aaa" stroke-width="0.5" />
<line x1="202.8" y1="201" x2="202.8" y2="304" stroke="#aaa" stroke-width="0.5" />
<rect x="197.20000000000002" y="187.2" width="7.2" height="14.5" stroke="#222" stroke-width="0" fill="#111" />
<rect x="195.8" y="189.2" width="10" height="1.8" stroke="#222" stroke-width="0" fill="#111" />
<rect x="195.8" y="192.4" width="10" height="1.8" stroke="#222" stroke-width="0" fill="#111" />
<rect x="197.20000000000002" y="304" width="7.2" height="4.2" stroke="#222" stroke-width="0" fill="#111" />
<line x1="210.5" y1="200" x2="210.5" y2="304" stroke="#222" stroke-width="1.2" />
<line x1="217.5" y1="200" x2="217.5" y2="304" stroke="#222" stroke-width="1.2" />
<line x1="214" y1="201" x2="214" y2="304" stroke="#444" stroke-width="2.3" stroke-dasharray="26,1,38,1"/>
<line x1="212.0" y1="201" x2="212.0" y2="304" stroke="#aaa" stroke-width="0.5" />
<line x1="216.0" y1="201" x2="216.0" y2="304" stroke="#aaa" stroke-width="0.5" />
<rect x="210.4" y="187.2" width="7.2" height="14.5" stroke="#222" stroke-width="0" fill="#111" />
<rect x="209" y="189.2" width="10" height="1.8" stroke="#222" stroke-width="0" fill="#111" />
<rect x="209" y="192.4" width="10" height="1.8" stroke="#222" stroke-width="0" fill="#111" />
<rect x="210.4" y="304" width="7.2" height="4.2" stroke="#222" stroke-width="0" fill="#111" />
<line x1="223.7" y1="200" x2="223.7" y2="304" stroke="#222" stroke-width="1.2" />
<line x1="230.7" y1="200" x2="230.7" y2="304" stroke="#222" stroke-width="1.2" />
<line x1="227.2" y1="201" x2="227.2" y2="304" stroke="#444" stroke-width="2.3" stroke-dasharray="26,1,38,1"/>
<line x1="225.2" y1="201" x2="225.2" y2="304" stroke="#aaa" stroke-width="0.5" />
<line x1="229.2" y1="201" x2="229.2" y2="304" stroke="#aaa" stroke-width="0.5" />
<rect x="223.6" y="187.2" width="7.2" height="14.5" stroke="#222" stroke-width="0" fill="#111" />
<rect x="222.2" y="189.2" width="10" height="1.8" stroke="#222" stroke-width="0" fill="#111" />
<rect x="222.2" y="192.4" width="10" height="1.8" stroke="#222" stroke-width="0" fill="#111" />
<rect x="223.6" y="304" width="7.2" height="4.2" stroke="#222" stroke-width="0" fill="#111" />
<line x1="240.0" y1="200" x2="240.0" y2="304" stroke="#222" stroke-width="1.2" />
<line x1="247.0" y1="200" x2="247.0" y2="304" stroke="#222" stroke-width="1.2" />
<line x1="243.5" y1="201" x2="243.5" y2="304" stroke="#444" stroke-width="2.3" stroke-dasharray="26,1,38,1"/>
<line x1="241.5" y1="201" x2="241.5" y2="304" stroke="#aaa" stroke-width="0.5" />
<line x1="245.5" y1="201" x2="245.5" y2="304" stroke="#aaa" stroke-width="0.5" />
<rect x="239.9" y="187.2" width="7.2" height="14.5" stroke="#222" stroke-width="0" fill="#111" />
<rect x="238.5" y="189.2" width="10" height="1.8" stroke="#222" stroke-width="0" fill="#111" />
<rect x="238.5" y="192.4" width="10" height="1.8" stroke="#222" stroke-width="0" fill="#111" />
<rect x="239.9" y="304" width="7.2" height="4.2" stroke="#222" stroke-width="0" fill="#111" />
<line x1="252.0" y1="200" x2="252.0" y2="304" stroke="#222" stroke-width="1.2" />
<line x1="259.0" y1="200" x2="259.0" y2="304" stroke="#222" stroke-width="1.2" />
<line x1="255.5" y1="201" x2="255.5" y2="304" stroke="#444" stroke-width="2.3" stroke-dasharray="26,1,38,1"/>
<line x1="253.5" y1="201" x2="253.5" y2="304" stroke="#aaa" stroke-width="0.5" />
<line x1="257.5" y1="201" x2="257.5" y2="304" stroke="#aaa" stroke-width="0.5" />
<rect x="251.9" y="187.2" width="7.2" height="14.5" stroke="#222" stroke-width="0" fill="#111" />
<rect x="250.5" y="189.2" width="10" height="1.8" stroke="#222" stroke-width="0" fill="#111" />
<rect x="250.5" y="192.4" width="10" height="1.8" stroke="#222" stroke-width="0" fill="#111" />
<rect x="251.9" y="304" width="7.2" height="4.2" stroke="#222" stroke-width="0" fill="#111" />
<rect x="195.6" y="195.6" width="26.3" height="43.8" rx="3" fill="none" stroke="#222" stroke-width="1.1"/>
<rect x="196.9" y="210" width="23.7" height="22.5" stroke="#222" stroke-width="1.3" fill="none" />
<line x1="196.9" y1="212" x2="220.6" y2="212" stroke="#222" stroke-width="0.9" />
<line x1="198.0" y1="196" x2="198.0" y2="232.5" stroke="#222" stroke-width="1.2" />
<line x1="219.6" y1="196" x2="219.6" y2="232.5" stroke="#222" stroke-width="1.2" />
<line x1="197.4" y1="210" x2="197.4" y2="232.5" stroke="#222" stroke-width="2.0" />
<line x1="220.2" y1="210" x2="220.2" y2="232.5" stroke="#222" stroke-width="2.0" />
<line x1="196.9" y1="208.7" x2="220.6" y2="208.7" stroke="#222" stroke-width="0.8" />
<rect x="221.9" y="216.9" width="3.2" height="2.5" stroke="#222" stroke-width="0.8" fill="none" />
<line x1="221.9" y1="218" x2="227" y2="218" stroke="#222" stroke-width="0.7" />
<path d="M197,232.5 L197,236 Q197,239 200,239 L217.6,239 Q220.6,239 220.6,236 L220.6,232.5" fill="#ccc" fill-opacity="0.5" stroke="#444" stroke-width="0.8"/>
<line x1="204" y1="196" x2="204" y2="210" stroke="#555" stroke-width="0.7" />
<line x1="213.5" y1="196" x2="213.5" y2="210" stroke="#555" stroke-width="0.7" />
<line x1="168.75" y1="245.4" x2="266" y2="245.4" stroke="#222" stroke-width="0.8" />
<line x1="168.75" y1="248.3" x2="266" y2="248.3" stroke="#222" stroke-width="0.8" />
<line x1="168.75" y1="251.3" x2="266" y2="251.3" stroke="#222" stroke-width="1.2" />
<rect x="163" y="242" width="5.75" height="12" stroke="#222" stroke-width="0.9" fill="none" />
<line x1="109.5" y1="251.7" x2="168" y2="251.7" stroke="#555" stroke-width="0.7" />
<path d="M255.00,195.10 A198.4,198.4 0 0 1 453.40,393.50" fill="none" stroke="#222" stroke-width="0.9" />
<path d="M255.00,193.00 A200.5,200.5 0 0 1 455.50,393.50" fill="none" stroke="#444" stroke-width="0.6" />
<path d="M255.00,187.30 A206.2,206.2 0 0 1 461.20,393.50" fill="none" stroke="#222" stroke-width="1.2" />
<path d="M259.68,303.61 L267.08,197.87 L270.27,198.09 L262.87,303.83 Z" fill="url(#hp)" stroke="#222" stroke-width="0.6" />
<path d="M265.94,304.15 L280.69,199.18 L283.86,199.63 L269.11,304.60 Z" fill="url(#hp)" stroke="#222" stroke-width="0.6" />
<path d="M269.05,304.59 L287.46,200.20 L290.61,200.76 L272.20,305.15 Z" fill="url(#hp)" stroke="#222" stroke-width="0.6" />
<path d="M275.22,305.79 L300.86,202.93 L303.97,203.71 L278.33,306.56 Z" fill="url(#hp)" stroke="#222" stroke-width="0.6" />
<path d="M278.27,306.55 L307.49,204.65 L310.56,205.53 L281.35,307.43 Z" fill="url(#hp)" stroke="#222" stroke-width="0.6" />
<path d="M284.28,308.38 L320.53,208.77 L323.54,209.87 L287.29,309.47 Z" fill="url(#hp)" stroke="#222" stroke-width="0.6" />
<path d="M287.23,309.45 L326.94,211.17 L329.91,212.37 L290.20,310.65 Z" fill="url(#hp)" stroke="#222" stroke-width="0.6" />
<path d="M293.02,311.91 L339.48,216.63 L342.36,218.04 L295.89,313.31 Z" fill="url(#hp)" stroke="#222" stroke-width="0.6" />
<path d="M295.84,313.28 L345.60,219.69 L348.43,221.19 L298.67,314.79 Z" fill="url(#hp)" stroke="#222" stroke-width="0.6" />
<path d="M301.34,316.33 L357.51,226.43 L360.22,228.13 L304.05,318.02 Z" fill="url(#hp)" stroke="#222" stroke-width="0.6" />
<path d="M304.00,317.99 L363.28,230.11 L365.93,231.90 L306.65,319.78 Z" fill="url(#hp)" stroke="#222" stroke-width="0.6" />
<path d="M309.15,321.59 L374.41,238.06 L376.93,240.03 L311.67,323.56 Z" fill="url(#hp)" stroke="#222" stroke-width="0.6" />
<path d="M311.63,323.53 L379.76,242.33 L382.21,244.38 L314.08,325.58 Z" fill="url(#hp)" stroke="#222" stroke-width="0.6" />
<path d="M316.37,327.65 L390.00,251.40 L392.30,253.62 L318.67,329.87 Z" fill="url(#hp)" stroke="#222" stroke-width="0.6" />
<path d="M318.63,329.83 L394.88,256.20 L397.10,258.50 L320.85,332.13 Z" fill="url(#hp)" stroke="#222" stroke-width="0.6" />
<path d="M322.92,334.42 L404.12,266.29 L406.17,268.74 L324.97,336.87 Z" fill="url(#hp)" stroke="#222" stroke-width="0.6" />
<path d="M324.94,336.83 L408.47,271.57 L410.44,274.09 L326.91,339.35 Z" fill="url(#hp)" stroke="#222" stroke-width="0.6" />
<path d="M328.72,341.85 L416.60,282.57 L418.39,285.22 L330.51,344.50 Z" fill="url(#hp)" stroke="#222" stroke-width="0.6" />
<path d="M330.48,344.45 L420.37,288.28 L422.07,290.99 L332.17,347.16 Z" fill="url(#hp)" stroke="#222" stroke-width="0.6" />
<path d="M333.71,349.83 L427.31,300.07 L428.81,302.90 L335.22,352.66 Z" fill="url(#hp)" stroke="#222" stroke-width="0.6" />
<path d="M335.19,352.61 L430.46,306.14 L431.87,309.02 L336.59,355.48 Z" fill="url(#hp)" stroke="#222" stroke-width="0.6" />
<path d="M337.85,358.30 L436.13,318.59 L437.33,321.56 L339.05,361.27 Z" fill="url(#hp)" stroke="#222" stroke-width="0.6" />
<path d="M339.03,361.21 L438.63,324.96 L439.73,327.97 L340.12,364.22 Z" fill="url(#hp)" stroke="#222" stroke-width="0.6" />
<path d="M341.07,367.15 L442.97,337.94 L443.85,341.01 L341.95,370.23 Z" fill="url(#hp)" stroke="#222" stroke-width="0.6" />
<path d="M341.94,370.17 L444.79,344.53 L445.57,347.64 L342.71,373.28 Z" fill="url(#hp)" stroke="#222" stroke-width="0.6" />
<path d="M343.35,376.30 L447.74,357.89 L448.30,361.04 L343.91,379.45 Z" fill="url(#hp)" stroke="#222" stroke-width="0.6" />
<path d="M343.90,379.39 L448.87,364.64 L449.32,367.81 L344.35,382.56 Z" fill="url(#hp)" stroke="#222" stroke-width="0.6" />
<path d="M344.70,385.94 L450.46,378.91 L450.68,382.11 L344.91,389.13 Z" fill="url(#hp)" stroke="#222" stroke-width="0.6" />
<path d="M262.02,303.74 L273.10,198.32 L277.87,198.82 L266.79,304.24 Z" fill="#fff" stroke="#111" stroke-width="1.1" />
<path d="M264.62,302.00 L275.28,200.56" fill="none" stroke="#2a2a2a" stroke-width="1.7" stroke-dasharray="22,1,30,1"/>
<path d="M271.89,201.34 L273.00,188.69 L279.98,189.42 L278.43,202.03 Z" fill="#111" stroke="none" stroke-width="1" />
<path d="M270.35,199.81 L270.49,198.11 L280.47,199.16 L280.25,200.85 Z" fill="#111" stroke="none" stroke-width="1" />
<path d="M270.73,196.23 L270.86,194.53 L280.85,195.58 L280.63,197.27 Z" fill="#111" stroke="none" stroke-width="1" />
<path d="M271.10,192.64 L271.24,190.95 L281.23,192.00 L281.01,193.69 Z" fill="#111" stroke="none" stroke-width="1" />
<path d="M271.36,304.97 L293.40,201.28 L298.10,202.28 L276.06,305.97 Z" fill="#fff" stroke="#111" stroke-width="1.1" />
<path d="M274.13,303.51 L295.33,203.74" fill="none" stroke="#2a2a2a" stroke-width="1.7" stroke-dasharray="22,1,30,1"/>
<path d="M291.88,204.16 L294.31,191.69 L301.17,193.15 L298.32,205.53 Z" fill="#111" stroke="none" stroke-width="1" />
<path d="M290.52,202.47 L290.83,200.80 L300.65,202.89 L300.25,204.54 Z" fill="#111" stroke="none" stroke-width="1" />
<path d="M291.26,198.95 L291.57,197.28 L301.40,199.37 L301.00,201.02 Z" fill="#111" stroke="none" stroke-width="1" />
<path d="M292.01,195.43 L292.32,193.76 L302.15,195.84 L301.75,197.50 Z" fill="#111" stroke="none" stroke-width="1" />
<path d="M280.53,307.16 L313.28,206.35 L317.85,207.83 L285.09,308.65 Z" fill="#fff" stroke="#111" stroke-width="1.1" />
<path d="M283.43,306.00 L314.95,209.00" fill="none" stroke="#2a2a2a" stroke-width="1.7" stroke-dasharray="22,1,30,1"/>
<path d="M311.47,209.05 L315.19,196.91 L321.86,199.08 L317.73,211.09 Z" fill="#111" stroke="none" stroke-width="1" />
<path d="M310.29,207.23 L310.77,205.60 L320.32,208.71 L319.76,210.31 Z" fill="#111" stroke="none" stroke-width="1" />
<path d="M311.40,203.81 L311.89,202.18 L321.44,205.28 L320.87,206.88 Z" fill="#111" stroke="none" stroke-width="1" />
<path d="M312.51,200.38 L313.00,198.75 L322.55,201.86 L321.98,203.46 Z" fill="#111" stroke="none" stroke-width="1" />
<path d="M289.41,310.30 L332.53,213.47 L336.91,215.42 L293.80,312.26 Z" fill="#fff" stroke="#111" stroke-width="1.1" />
<path d="M292.42,309.45 L333.91,216.27" fill="none" stroke="#2a2a2a" stroke-width="1.7" stroke-dasharray="22,1,30,1"/>
<path d="M330.44,215.96 L335.41,204.28 L341.82,207.13 L336.45,218.64 Z" fill="#111" stroke="none" stroke-width="1" />
<path d="M329.46,214.03 L330.11,212.46 L339.28,216.55 L338.55,218.08 Z" fill="#111" stroke="none" stroke-width="1" />
<path d="M330.92,210.74 L331.57,209.17 L340.75,213.26 L340.02,214.79 Z" fill="#111" stroke="none" stroke-width="1" />
<path d="M332.38,207.45 L333.04,205.88 L342.21,209.97 L341.48,211.50 Z" fill="#111" stroke="none" stroke-width="1" />
<path d="M297.92,314.36 L350.92,222.56 L355.08,224.96 L302.08,316.76 Z" fill="#fff" stroke="#111" stroke-width="1.1" />
<path d="M301.00,313.83 L352.00,225.49" fill="none" stroke="#2a2a2a" stroke-width="1.7" stroke-dasharray="22,1,30,1"/>
<path d="M348.59,224.82 L354.75,213.72 L360.82,217.23 L354.29,228.11 Z" fill="#111" stroke="none" stroke-width="1" />
<path d="M347.81,222.80 L348.62,221.30 L357.32,226.33 L356.43,227.78 Z" fill="#111" stroke="none" stroke-width="1" />
<path d="M349.61,219.68 L350.42,218.19 L359.12,223.21 L358.23,224.66 Z" fill="#111" stroke="none" stroke-width="1" />
<path d="M351.41,216.56 L352.22,215.07 L360.92,220.09 L360.03,221.54 Z" fill="#111" stroke="none" stroke-width="1" />
<path d="M305.96,319.28 L368.26,233.52 L372.15,236.34 L309.84,322.10 Z" fill="#fff" stroke="#111" stroke-width="1.1" />
<path d="M309.08,319.07 L369.03,236.55" fill="none" stroke="#2a2a2a" stroke-width="1.7" stroke-dasharray="22,1,30,1"/>
<path d="M365.70,235.53 L372.99,225.13 L378.67,229.25 L371.03,239.40 Z" fill="#111" stroke="none" stroke-width="1" />
<path d="M365.14,233.43 L366.11,232.03 L374.23,237.94 L373.20,239.29 Z" fill="#111" stroke="none" stroke-width="1" />
<path d="M367.26,230.52 L368.22,229.12 L376.35,235.02 L375.31,236.37 Z" fill="#111" stroke="none" stroke-width="1" />
<path d="M369.37,227.61 L370.34,226.21 L378.46,232.11 L377.43,233.46 Z" fill="#111" stroke="none" stroke-width="1" />
<path d="M313.44,325.01 L384.37,246.24 L387.93,249.45 L317.01,328.22 Z" fill="#fff" stroke="#111" stroke-width="1.1" />
<path d="M316.56,325.13 L384.81,249.33" fill="none" stroke="#2a2a2a" stroke-width="1.7" stroke-dasharray="22,1,30,1"/>
<path d="M381.61,247.97 L389.95,238.38 L395.16,243.08 L386.50,252.37 Z" fill="#111" stroke="none" stroke-width="1" />
<path d="M381.27,245.82 L382.38,244.53 L389.84,251.25 L388.67,252.49 Z" fill="#111" stroke="none" stroke-width="1" />
<path d="M383.68,243.15 L384.78,241.86 L392.25,248.57 L391.08,249.81 Z" fill="#111" stroke="none" stroke-width="1" />
<path d="M386.09,240.47 L387.19,239.18 L394.66,245.90 L393.49,247.13 Z" fill="#111" stroke="none" stroke-width="1" />
<path d="M320.28,331.49 L399.05,260.57 L402.26,264.13 L323.49,335.06 Z" fill="#fff" stroke="#111" stroke-width="1.1" />
<path d="M323.37,331.94 L399.17,263.69" fill="none" stroke="#2a2a2a" stroke-width="1.7" stroke-dasharray="22,1,30,1"/>
<path d="M396.13,262.00 L405.42,253.34 L410.12,258.55 L400.53,266.89 Z" fill="#111" stroke="none" stroke-width="1" />
<path d="M396.01,259.83 L397.25,258.66 L403.97,266.12 L402.68,267.23 Z" fill="#111" stroke="none" stroke-width="1" />
<path d="M398.69,257.42 L399.93,256.25 L406.64,263.72 L405.35,264.82 Z" fill="#111" stroke="none" stroke-width="1" />
<path d="M401.37,255.01 L402.60,253.84 L409.32,261.31 L408.03,262.41 Z" fill="#111" stroke="none" stroke-width="1" />
<path d="M326.40,338.66 L412.16,276.35 L414.98,280.24 L329.22,342.54 Z" fill="#fff" stroke="#111" stroke-width="1.1" />
<path d="M329.43,339.42 L411.95,279.47" fill="none" stroke="#2a2a2a" stroke-width="1.7" stroke-dasharray="22,1,30,1"/>
<path d="M409.10,277.47 L419.25,269.83 L423.37,275.51 L412.97,282.80 Z" fill="#111" stroke="none" stroke-width="1" />
<path d="M409.21,275.30 L410.56,274.27 L416.47,282.39 L415.07,283.36 Z" fill="#111" stroke="none" stroke-width="1" />
<path d="M412.13,273.19 L413.48,272.15 L419.38,280.28 L417.98,281.24 Z" fill="#111" stroke="none" stroke-width="1" />
<path d="M415.04,271.07 L416.39,270.04 L422.29,278.16 L420.89,279.13 Z" fill="#111" stroke="none" stroke-width="1" />
<path d="M331.74,346.42 L423.54,293.42 L425.94,297.58 L334.14,350.58 Z" fill="#fff" stroke="#111" stroke-width="1.1" />
<path d="M334.67,347.50 L423.01,296.50" fill="none" stroke="#2a2a2a" stroke-width="1.7" stroke-dasharray="22,1,30,1"/>
<path d="M420.39,294.21 L431.27,287.68 L434.78,293.75 L423.68,299.91 Z" fill="#111" stroke="none" stroke-width="1" />
<path d="M420.72,292.07 L422.17,291.18 L427.20,299.88 L425.70,300.69 Z" fill="#111" stroke="none" stroke-width="1" />
<path d="M423.84,290.27 L425.29,289.38 L430.31,298.08 L428.82,298.89 Z" fill="#111" stroke="none" stroke-width="1" />
<path d="M426.96,288.47 L428.41,287.58 L433.43,296.28 L431.94,297.09 Z" fill="#111" stroke="none" stroke-width="1" />
<path d="M336.24,354.70 L433.08,311.59 L435.03,315.97 L338.20,359.09 Z" fill="#fff" stroke="#111" stroke-width="1.1" />
<path d="M339.05,356.08 L432.23,314.59" fill="none" stroke="#2a2a2a" stroke-width="1.7" stroke-dasharray="22,1,30,1"/>
<path d="M429.86,312.05 L441.37,306.68 L444.22,313.09 L432.54,318.06 Z" fill="#111" stroke="none" stroke-width="1" />
<path d="M430.42,309.95 L431.95,309.22 L436.04,318.39 L434.47,319.04 Z" fill="#111" stroke="none" stroke-width="1" />
<path d="M433.71,308.48 L435.24,307.75 L439.33,316.93 L437.76,317.58 Z" fill="#111" stroke="none" stroke-width="1" />
<path d="M437.00,307.02 L438.53,306.29 L442.62,315.46 L441.05,316.12 Z" fill="#111" stroke="none" stroke-width="1" />
<path d="M339.85,363.41 L440.67,330.65 L442.15,335.22 L341.34,367.97 Z" fill="#fff" stroke="#111" stroke-width="1.1" />
<path d="M342.50,365.07 L439.50,333.55" fill="none" stroke="#2a2a2a" stroke-width="1.7" stroke-dasharray="22,1,30,1"/>
<path d="M437.41,330.77 L449.42,326.64 L451.59,333.31 L439.45,337.03 Z" fill="#111" stroke="none" stroke-width="1" />
<path d="M438.19,328.74 L439.79,328.18 L442.90,337.73 L441.27,338.21 Z" fill="#111" stroke="none" stroke-width="1" />
<path d="M441.62,327.63 L443.22,327.06 L446.32,336.61 L444.69,337.10 Z" fill="#111" stroke="none" stroke-width="1" />
<path d="M445.04,326.52 L446.64,325.95 L449.75,335.50 L448.12,335.99 Z" fill="#111" stroke="none" stroke-width="1" />
<path d="M342.53,372.44 L446.22,350.40 L447.22,355.10 L343.53,377.14 Z" fill="#fff" stroke="#111" stroke-width="1.1" />
<path d="M344.99,374.37 L444.76,353.17" fill="none" stroke="#2a2a2a" stroke-width="1.7" stroke-dasharray="22,1,30,1"/>
<path d="M442.97,350.18 L455.35,347.33 L456.81,354.19 L444.34,356.62 Z" fill="#111" stroke="none" stroke-width="1" />
<path d="M443.96,348.25 L445.61,347.85 L447.70,357.67 L446.03,357.98 Z" fill="#111" stroke="none" stroke-width="1" />
<path d="M447.48,347.50 L449.13,347.10 L451.22,356.93 L449.55,357.24 Z" fill="#111" stroke="none" stroke-width="1" />
<path d="M451.00,346.75 L452.66,346.35 L454.74,356.18 L453.07,356.49 Z" fill="#111" stroke="none" stroke-width="1" />
<path d="M344.26,381.71 L449.68,370.63 L450.18,375.40 L344.76,386.48 Z" fill="#fff" stroke="#111" stroke-width="1.1" />
<path d="M346.50,383.88 L447.94,373.22" fill="none" stroke="#2a2a2a" stroke-width="1.7" stroke-dasharray="22,1,30,1"/>
<path d="M446.47,370.07 L459.08,368.52 L459.81,375.50 L447.16,376.61 Z" fill="#111" stroke="none" stroke-width="1" />
<path d="M447.65,368.25 L449.34,368.03 L450.39,378.01 L448.69,378.15 Z" fill="#111" stroke="none" stroke-width="1" />
<path d="M451.23,367.87 L452.92,367.65 L453.97,377.64 L452.27,377.77 Z" fill="#111" stroke="none" stroke-width="1" />
<path d="M454.81,367.49 L456.50,367.27 L457.55,377.26 L455.86,377.40 Z" fill="#111" stroke="none" stroke-width="1" />
<rect x="341.0" y="387.8" width="106.69999999999999" height="7.5" stroke="#222" stroke-width="0" fill="#fff" />
<line x1="341.0" y1="387.8" x2="447.7" y2="387.8" stroke="#222" stroke-width="1.1" />
<line x1="341.0" y1="395.3" x2="447.7" y2="395.3" stroke="#222" stroke-width="1.1" />
<line x1="343.0" y1="391.4" x2="447" y2="391.4" stroke="#333" stroke-width="2.0" stroke-dasharray="9,1.2"/>
<rect x="447.7" y="387" width="10.5" height="9.5" stroke="#222" stroke-width="0" fill="#111" />
<rect x="448.4" y="385.6" width="1.6" height="12.3" stroke="#222" stroke-width="0" fill="#111" />
<rect x="451.9" y="385.6" width="1.6" height="12.3" stroke="#222" stroke-width="0" fill="#111" />
<rect x="455.4" y="385.6" width="1.6" height="12.3" stroke="#222" stroke-width="0" fill="#111" />
<path d="M255.00,314.70 A78.8,78.8 0 0 1 333.80,393.50" fill="none" stroke="#222" stroke-width="1" />
<path d="M255.00,309.20 A84.3,84.3 0 0 1 339.30,393.50" fill="none" stroke="#222" stroke-width="0.7" />
<path d="M255.00,305.90 A87.6,87.6 0 0 1 342.60,393.50" fill="none" stroke="#111" stroke-width="4.8" />
<line x1="333.8" y1="393.5" x2="333.8" y2="396.9" stroke="#222" stroke-width="1" />
<line x1="461.2" y1="393.5" x2="461.2" y2="397.5" stroke="#222" stroke-width="1" />
<line x1="333.8" y1="396.9" x2="347.0" y2="396.9" stroke="#222" stroke-width="1" />
<path d="M265.62,247.96 C270.63,249.87 286.14,255.39 295.68,259.39 C305.21,263.38 314.08,267.32 322.82,271.95 C331.56,276.58 340.69,280.82 348.14,287.17 C355.58,293.52 361.89,301.37 367.47,310.06 C373.05,318.75 377.41,329.58 381.61,339.31 C385.80,349.04 390.15,360.90 392.66,368.45 C395.18,375.99 396.02,381.89 396.70,384.58" fill="none" stroke="#111" stroke-width="1.2"/>
<path d="M264.38,251.24 C269.37,253.13 284.86,258.65 294.32,262.61 C303.79,266.58 312.59,270.51 321.18,275.05 C329.77,279.58 338.64,283.68 345.86,289.83 C353.09,295.98 359.11,303.47 364.53,311.94 C369.95,320.42 374.26,331.09 378.39,340.69 C382.53,350.29 386.85,362.10 389.34,369.55 C391.82,377.01 392.64,382.78 393.30,385.42" fill="none" stroke="#111" stroke-width="1.2"/>
<path d="M265.00,249.60 C270.00,251.50 285.50,257.02 295.00,261.00 C304.50,264.98 313.33,268.92 322.00,273.50 C330.67,278.08 339.67,282.25 347.00,288.50 C354.33,294.75 360.50,302.42 366.00,311.00 C371.50,319.58 375.83,330.33 380.00,340.00 C384.17,349.67 388.50,361.50 391.00,369.00 C393.50,376.50 394.33,382.33 395.00,385.00" fill="none" stroke="#fff" stroke-width="1.6" stroke-dasharray="1.2,1.8"/>
<path d="M262,245.4 Q268,246 272,249 M262,248.3 Q268,249 272,252 M262,251.3 Q268,252 272,255" fill="none" stroke="#222" stroke-width="0.8"/>
<line x1="389" y1="231" x2="337.7" y2="293.2" stroke="#222" stroke-width="0.7" />
<path d="M285,275 L272,290 L287,306" fill="none" stroke="#222" stroke-width="0.8"/>
<path d="M360,377.7 L436,314.9" fill="none" stroke="#222" stroke-width="0.7"/>
<g transform="translate(256.43,311.71) rotate(1)"><rect x="-2.4" y="-2.5" width="4.8" height="5" fill="#fff" stroke="#222" stroke-width="0.8"/><circle r="0.9" fill="#222"/></g>
<g transform="translate(262.13,312.01) rotate(5)"><rect x="-2.4" y="-2.5" width="4.8" height="5" fill="#fff" stroke="#222" stroke-width="0.8"/></g>
<g transform="translate(267.80,312.71) rotate(9)"><rect x="-2.4" y="-2.5" width="4.8" height="5" fill="#fff" stroke="#222" stroke-width="0.8"/><circle r="0.9" fill="#222"/></g>
<g transform="translate(307.58,330.84) rotate(40)"><rect x="-2.4" y="-2.5" width="4.8" height="5" fill="#fff" stroke="#222" stroke-width="0.8"/><circle r="0.9" fill="#222"/></g>
<g transform="translate(311.82,334.66) rotate(44)"><rect x="-2.4" y="-2.5" width="4.8" height="5" fill="#fff" stroke="#222" stroke-width="0.8"/></g>
<g transform="translate(315.79,338.77) rotate(48)"><rect x="-2.4" y="-2.5" width="4.8" height="5" fill="#fff" stroke="#222" stroke-width="0.8"/><circle r="0.9" fill="#222"/></g>
<g transform="translate(335.43,378.59) rotate(79.5)"><rect x="-2.4" y="-2.5" width="4.8" height="5" fill="#fff" stroke="#222" stroke-width="0.8"/><circle r="0.9" fill="#222"/></g>
<g transform="translate(336.29,384.38) rotate(83.6)"><rect x="-2.4" y="-2.5" width="4.8" height="5" fill="#fff" stroke="#222" stroke-width="0.8"/></g>
<g transform="translate(336.73,390.22) rotate(87.7)"><rect x="-2.4" y="-2.5" width="4.8" height="5" fill="#fff" stroke="#222" stroke-width="0.8"/><circle r="0.9" fill="#222"/></g>
<line x1="110" y1="251.7" x2="139" y2="251.7" stroke="#222" stroke-width="0.7" />
<line x1="120.4" y1="251.7" x2="120.4" y2="397.5" stroke="#222" stroke-width="0.8" />
<path d="M120.4,251.7 L119.10000000000001,257.7 L121.7,257.7 Z" fill="#222"/>
<path d="M120.4,397.5 L119.10000000000001,391.5 L121.7,391.5 Z" fill="#222"/>
<text transform="translate(117.83,331.42) rotate(-90) scale(0.645,1)" font-size="12.15" fill="#3a3a3a">980</text>
<line x1="109.5" y1="397.5" x2="340" y2="397.5" stroke="#222" stroke-width="0.7" />
<line x1="139.5" y1="319.6" x2="139.5" y2="419.6" stroke="#222" stroke-width="0.7" />
<line x1="139.5" y1="412.3" x2="395" y2="412.3" stroke="#222" stroke-width="0.8" />
<path d="M139.5,412.3 L145.5,411.0 L145.5,413.6 Z" fill="#222"/>
<path d="M395,412.3 L389,411.0 L389,413.6 Z" fill="#222"/>
<line x1="395.3" y1="368" x2="395.3" y2="419" stroke="#555" stroke-width="0.7" />
<text transform="translate(258.80,410.25) scale(0.628,1)" font-size="11.46" fill="#3a3a3a">1721</text>
<text transform="translate(389.96,229.65) scale(0.809,1)" font-size="10.45" fill="#3a3a3a">R940</text>
<line x1="389" y1="231" x2="414.5" y2="231" stroke="#555" stroke-width="0.8" />
<text transform="translate(425.82,254.04) scale(0.681,1)" font-size="11.30" fill="#3a3a3a">R1376</text>
<line x1="424.3" y1="255.3" x2="451.7" y2="255.3" stroke="#555" stroke-width="0.8" />
<line x1="424.3" y1="255.3" x2="415.6" y2="261.3" stroke="#222" stroke-width="0.7" />
<text transform="translate(444.82,287.44) scale(0.706,1)" font-size="10.88" fill="#3a3a3a">R1320</text>
<line x1="443.3" y1="288.4" x2="471" y2="288.4" stroke="#555" stroke-width="0.8" />
<line x1="443.3" y1="288.4" x2="435.3" y2="293.1" stroke="#222" stroke-width="0.7" />
<path d="M415.60,261.30 L419.69,257.40 L421.00,259.64 Z" fill="#111"/>
<path d="M329.10,357.70 L324.65,361.18 L323.56,358.82 Z" fill="#111"/>
<text transform="translate(292.40,370.30) rotate(-25.8) scale(0.797,1)" font-size="10.17" fill="#3a3a3a">R560</text>
<line x1="292.8" y1="374.4" x2="329.1" y2="357.7" stroke="#333" stroke-width="0.8" />
</svg></body></html>
